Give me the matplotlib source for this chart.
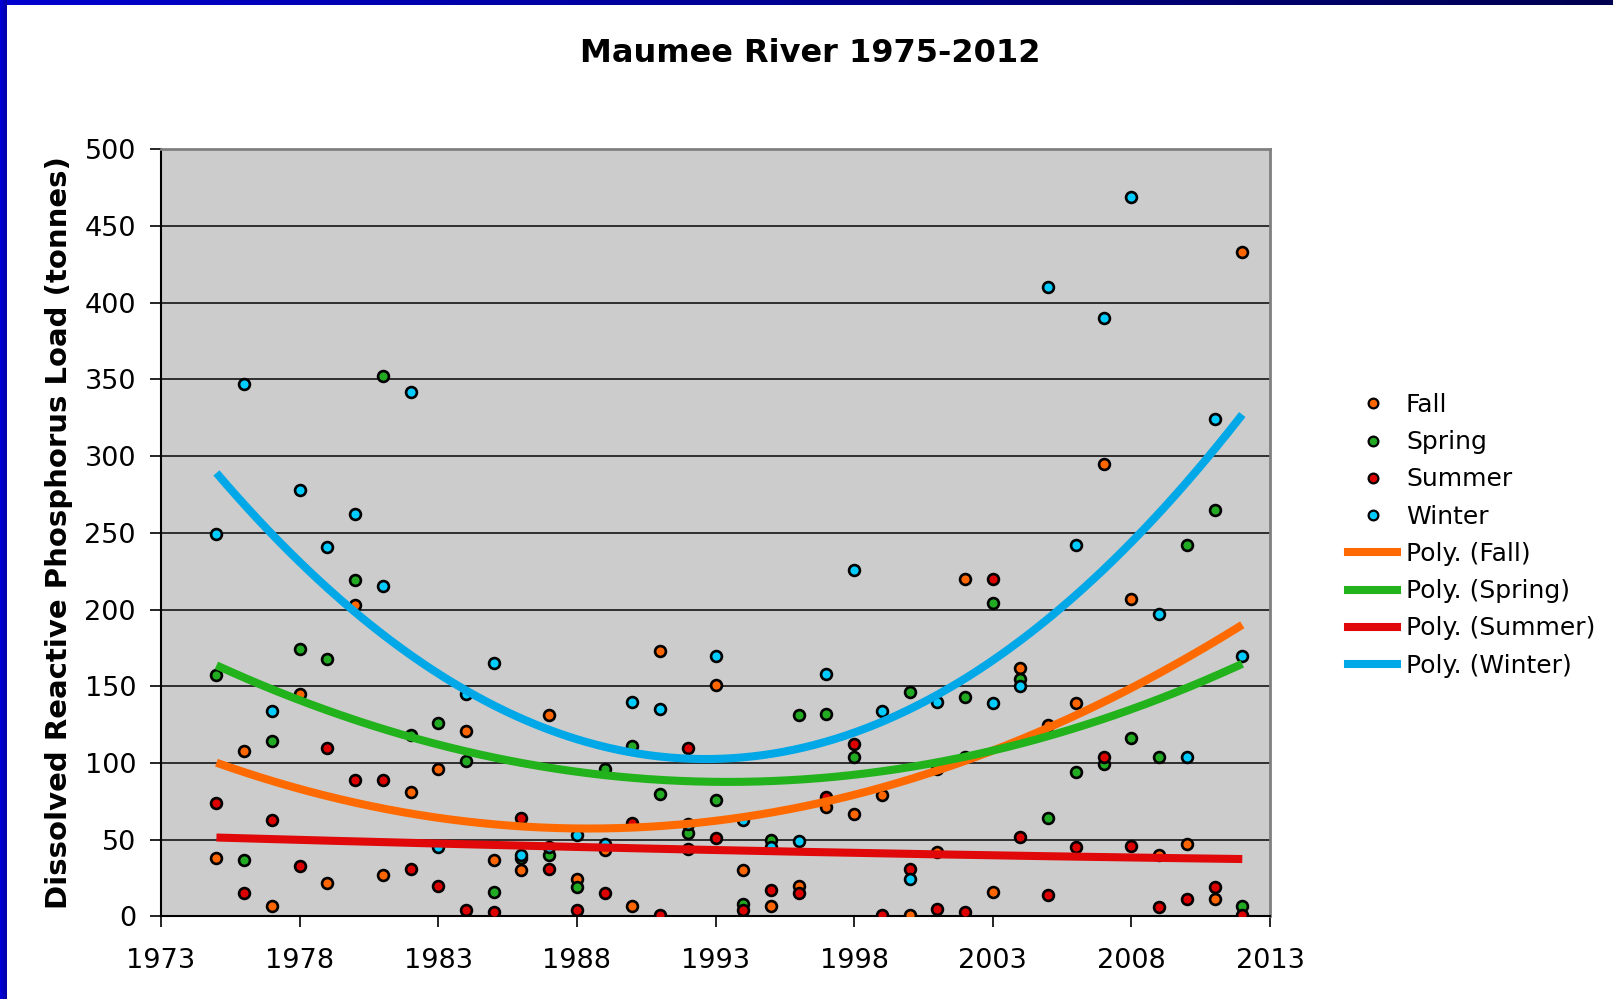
import numpy as np
import matplotlib
matplotlib.use("Agg")
import matplotlib.pyplot as plt
from matplotlib.lines import Line2D

years = np.arange(1975, 2013)
nan = np.nan

# seasonal DRP loads (tonnes), one value per year 1975..2012
fall = [38, 108, 7, 145, 22, 203, 27, 81, 96, 121, 37, 30, 131, 24, 43, 7, 173, 44, 151, 30,
        7, 20, 71, 67, 79, 1, 42, 220, 16, 162, 125, 139, 295, 207, 40, 47, 11, 433]
spring = [157, 37, 114, 174, 168, 219, 352, 118, 126, 101, 16, 38, 40, 19, 96, 111, 80, 54, 76, 8,
          50, 131, 132, 104, nan, 146, 96, 143, 204, 155, 64, 94, 99, 116, 104, 242, 265, 7]
summer = [74, 15, 63, 33, 110, 89, 89, 31, 20, 4, 3, 64, 31, 4, 15, 61, 1, 110, 51, 4,
          17, 15, 78, 112, 1, 31, 5, 3, 220, 52, 14, 45, 104, 46, 6, 11, 19, 1]
winter = [249, 347, 134, 278, 241, 262, 215, 342, 45, 145, 165, 40, 45, 53, 47, 140, 135, 60, 170, 63,
          45, 49, 158, 226, 134, 24, 140, 104, 139, 150, 410, 242, 390, 469, 197, 104, 324, 170]

series = [("Fall", fall), ("Spring", spring), ("Summer", summer), ("Winter", winter)]
trend_colors = {"Fall": "#FF6A00", "Spring": "#22B21C", "Summer": "#E00808", "Winter": "#00A8E8"}
marker_fill = {"Fall": "#FF6600", "Spring": "#22AA22", "Summer": "#DD0000", "Winter": "#00CCFF"}

fig = plt.figure(figsize=(16.13, 9.99), dpi=100)
fig.patch.set_facecolor("white")

# blue frame on top and left edge
grad = np.linspace(0, 1, 256).reshape(1, -1)
top = fig.add_axes([0, 1 - 5 / 999, 1, 5 / 999])
top.imshow(grad, aspect="auto", cmap=matplotlib.colors.LinearSegmentedColormap.from_list(
    "t", ["#0000D0", "#000090", "#000050"]))
top.axis("off")
left = fig.add_axes([0, 0, 7 / 1613, 1])
left.imshow(grad, aspect="auto", cmap=matplotlib.colors.LinearSegmentedColormap.from_list(
    "l", ["#0000E0", "#0000A0"]))
left.axis("off")

ax = fig.add_axes([161 / 1613, 1 - 916.3 / 999, (1270 - 161) / 1613, (916.3 - 149.3) / 999])
ax.set_facecolor("#CCCCCC")

xs = np.linspace(1975, 2012, 200)
handles_pts = []
handles_lines = []
# trendlines sit on top of the markers, as in the excel chart
for name, vals in series:
    v = np.array(vals, dtype=float)
    ok = ~np.isnan(v)
    coef = np.polyfit(years[ok], v[ok], 2)
    ax.plot(xs, np.polyval(coef, xs), color=trend_colors[name], lw=5.8, zorder=5,
            solid_capstyle="butt")

for name, vals in series:
    ax.plot(years, vals, ls="none", marker="o", ms=7.8, mfc=marker_fill[name],
            mec="black", mew=1.9, zorder=4)
    handles_pts.append(Line2D([], [], ls="none", marker="o", ms=7, mfc=marker_fill[name],
                              mec="black", mew=1.6, label=name))
    handles_lines.append(Line2D([], [], color=trend_colors[name], lw=5.8,
                                label="Poly. (%s)" % name))

ax.set_xlim(1973, 2013)
ax.set_ylim(0, 500)
ax.set_xticks(np.arange(1973, 2014, 5))
ax.set_yticks(np.arange(0, 501, 50))
ax.yaxis.grid(True, color="#222222", lw=1.3)
ax.set_axisbelow(True)
ax.tick_params(axis="both", labelsize=19.5, length=8, width=1.2, direction="out")
ax.tick_params(axis="x", pad=15)
ax.tick_params(axis="y", pad=10)
for s in ["left", "bottom"]:
    ax.spines[s].set_color("black")
    ax.spines[s].set_linewidth(1.5)
for s in ["top", "right"]:
    ax.spines[s].set_color("#808080")
    ax.spines[s].set_linewidth(2)

ax.set_ylabel("Dissolved Reactive Phosphorus Load (tonnes)", fontsize=21, fontweight="bold",
              labelpad=8)
fig.text(810 / 1613, 1 - 54 / 999, "Maumee River 1975-2012", fontsize=23, fontweight="bold",
         ha="center", va="center")

fig.legend(handles=handles_pts + handles_lines, loc="upper left",
           bbox_to_anchor=(1338 / 1613, 1 - 383 / 999), frameon=False, fontsize=18,
           handlelength=1.97, handletextpad=0.35, labelspacing=0.53, borderaxespad=0)

fig.savefig("out.png", dpi=100)
